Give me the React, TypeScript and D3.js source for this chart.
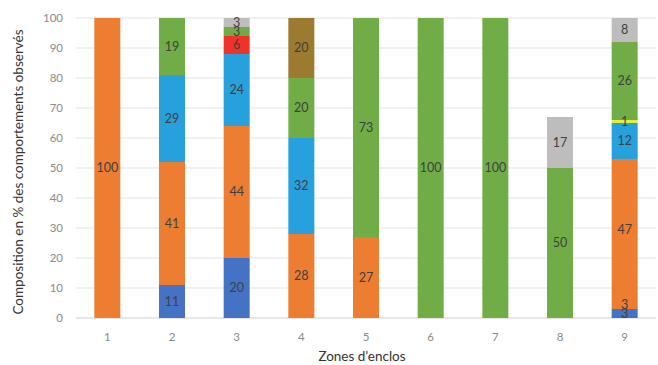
import React from "react";
import * as d3 from "d3";

const zones = ["1", "2", "3", "4", "5", "6", "7", "8", "9"];
const seriesNames = ["s1", "s2", "s3", "s4", "s5", "s6", "s7", "s8", "s9"];
const seriesColors = ["#4472C4", "#EC7C30", "#ED7D31", "#27A0DE", "#E2EE3A", "#F0332A", "#70AD47", "#9C7A2F", "#BDBDBD"];
// values per series, one per zone
const sBlue = [0, 11, 20, 0, 0, 0, 0, 0, 3];
const sOrange2 = [0, 0, 0, 0, 0, 0, 0, 0, 3];
const sOrange = [100, 41, 44, 28, 27, 0, 0, 0, 47];
const sLightBlue = [0, 29, 24, 32, 0, 0, 0, 0, 12];
const sYellow = [0, 0, 0, 0, 0, 0, 0, 0, 1];
const sRed = [0, 0, 6, 0, 0, 0, 0, 0, 0];
const sGreen = [0, 19, 3, 20, 73, 100, 100, 50, 26];
const sBrown = [0, 0, 0, 20, 0, 0, 0, 0, 0];
const sGray = [0, 0, 3, 0, 0, 0, 0, 17, 8];
const yTicks = [0, 10, 20, 30, 40, 50, 60, 70, 80, 90, 100];

const allSeries = [sBlue, sOrange2, sOrange, sLightBlue, sYellow, sRed, sGreen, sBrown, sGray];

export default function App() {
  const W = 658, H = 365;
  const x = d3.scalePoint<string>().domain(zones).range([75, 657]).padding(0.5);
  const y = d3.scaleLinear().domain([0, 100]).range([318, 18]);
  const bw = 26;
  const font = "Lato, 'Open Sans', sans-serif";

  const rows = zones.map((z, i) => {
    const r: any = { zone: z };
    seriesNames.forEach((s, k) => (r[s] = allSeries[k][i]));
    return r;
  });
  const stacked = d3.stack().keys(seriesNames)(rows);

  return (
    <svg width={W} height={H} style={{ position: "absolute", left: 0, top: 0, background: "#fff" }}>
      {yTicks.map((t) => (
        <g key={t}>
          <line x1={76} x2={656} y1={y(t)} y2={y(t)} stroke={t === 0 ? "#d0d0d0" : "#e3e3e3"} strokeWidth={1} />
          <text x={63} y={y(t)} dy="0.35em" textAnchor="end" fontSize={11.5} fill="#8a8a8a" fontFamily={font}>{t}</text>
        </g>
      ))}
      {stacked.map((layer, k) => (
        <g key={layer.key} fill={seriesColors[k]}>
          {layer.map((d, i) =>
            d[1] - d[0] > 0 ? (
              <rect key={i} x={(x(zones[i]) as number) - bw / 2} y={y(d[1])} width={bw} height={y(d[0]) - y(d[1])} />
            ) : null
          )}
        </g>
      ))}
      {stacked.map((layer) => (
        <g key={"l" + layer.key}>
          {layer.map((d, i) =>
            d[1] - d[0] > 0 ? (
              <text key={i} x={x(zones[i]) as number} y={y((d[0] + d[1]) / 2)} dy="0.35em" textAnchor="middle" fontSize={12.5} fill="#404040" fontFamily={font}>
                {d[1] - d[0]}
              </text>
            ) : null
          )}
        </g>
      ))}
      {zones.map((z) => (
        <text key={z} x={x(z) as number} y={337} dy="0.35em" textAnchor="middle" fontSize={11.5} fill="#8a8a8a" fontFamily={font}>{z}</text>
      ))}
      <text x={362} y={356} dy="0.35em" textAnchor="middle" fontSize={13.5} fill="#333" fontFamily={font}>Zones d’enclos</text>
      <text transform={`translate(18,172) rotate(-90)`} dy="0.35em" textAnchor="middle" fontSize={13.5} fill="#333" fontFamily={font}>
        Composition en % des comportements observés
      </text>
    </svg>
  );
}
